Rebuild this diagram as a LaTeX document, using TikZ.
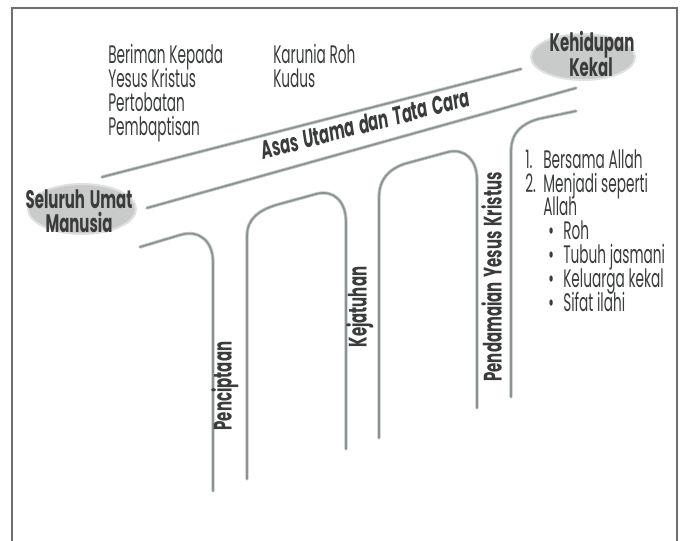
\documentclass[tikz,border=0pt]{standalone}
\usepackage{fontspec}
\setmainfont{Poppins}[FakeStretch=0.54]
\newfontfamily\boldf{Poppins}[FakeStretch=0.59,WordSpace=1.5]
\definecolor{txt}{HTML}{3A3C3C}
\definecolor{raildark}{HTML}{8A9292}
\definecolor{railedge}{HTML}{C0C5C5}
\definecolor{blob}{HTML}{C9CBCB}
\definecolor{framec}{HTML}{6E7070}
\begin{document}
\begin{tikzpicture}[x=0.75pt,y=-0.75pt,
  rail/.style={draw=railedge,line width=2.5pt,line cap=round,
    postaction={draw=raildark,line width=1.2pt}},
  plain/.style={font=\fontsize{19}{22}\selectfont,text=txt,inner sep=0pt,anchor=base west,
    text height=11pt,text depth=3pt},
  boldlbl/.style={font=\fontsize{19}{22}\selectfont\boldf\bfseries,text=txt,inner sep=0pt,anchor=base,
    text height=11pt,text depth=3pt}]
\useasboundingbox (0,0) rectangle (681,540);
% frame
\draw[framec,line width=1pt] (12,541) -- (12,8) -- (677,8) -- (677,541);
% ellipses
\path[fill=blob,draw=blob!60,line width=1.5pt] (82,209) ellipse [x radius=54,y radius=25];
\path[fill=blob,draw=blob!60,line width=1.5pt] (583,57) ellipse [x radius=52,y radius=23];
% rails
\coordinate (t1) at (102,177); \coordinate (t2) at (521,69);
\coordinate (m1) at (147,208); \coordinate (m2) at (576,88);
\draw[rail] (t1) -- (t2);
\draw[rail] (m1) -- (m2);
% arches
\draw[rail] (140,247) -- (180,235) .. controls (200,229) and (213,242) .. (213,262) -- (213,491);
\draw[rail] (247,479) -- (247,236) .. controls (247,218) and (260,210) .. (276,205)
  -- (316,194) .. controls (334,189) and (346,202) .. (346,222) -- (346,449);
\draw[rail] (379,438) -- (379,198) .. controls (379,178) and (390,169) .. (404,164)
  -- (448,152) .. controls (465,148) and (477,160) .. (477,180) -- (477,408);
\draw[rail] (511,397) -- (511,152) .. controls (511,132) and (522,124) .. (538,119) -- (576,111);
% end labels
\node[boldlbl] (su1) at (79,208) {Seluruh Umat};
\node[boldlbl] (su2) at (79,232) {Manusia};
\node[boldlbl] (kk1) at (592,51.5) {Kehidupan};
\node[boldlbl] (kk2) at (591,76) {Kekal};
% top-left texts
\node[plain] (b1) at (108,63.3) {Beriman Kepada};
\node[plain] (b2) at (108,87) {Yesus Kristus};
\node[plain] (b3) at (108,111) {Pertobatan};
\node[plain] (b4) at (108,135) {Pembaptisan};
\node[plain] (k1) at (273,63.3) {Karunia Roh};
\node[plain] (k2) at (273,87) {Kudus};
% rotated labels
\node[boldlbl,font=\fontsize{19}{22}\selectfont\boldf\bfseries\itshape,rotate=14.5] (asas) at (367.5,132.5) {Asas Utama dan Tata Cara};
\node[boldlbl,rotate=90] (pen) at (231.5,386) {Penciptaan};
\node[boldlbl,rotate=90] (kej) at (366.5,307) {Kejatuhan};
\node[boldlbl,rotate=90] (pyk) at (501.5,277) {Pendamaian Yesus Kristus};
% right list
\node[plain] (r1n) at (525,168) {1.};
\node[plain] (r1) at (543,168) {Bersama Allah};
\node[plain] (r2n) at (525,192) {2.};
\node[plain] (r2) at (543,192) {Menjadi seperti};
\node[plain] (r3) at (543,215.5) {Allah};
\node[plain] (d1) at (548,239) {•}; \node[plain] (s1) at (563,239) {Roh};
\node[plain] (d2) at (548,263) {•}; \node[plain] (s2) at (563,263) {Tubuh jasmani};
\node[plain] (d3) at (548,287) {•}; \node[plain] (s3) at (563,287) {Keluarga kekal};
\node[plain] (d4) at (548,311) {•}; \node[plain] (s4) at (563,311) {Sifat ilahi};
\end{tikzpicture}
\end{document}
